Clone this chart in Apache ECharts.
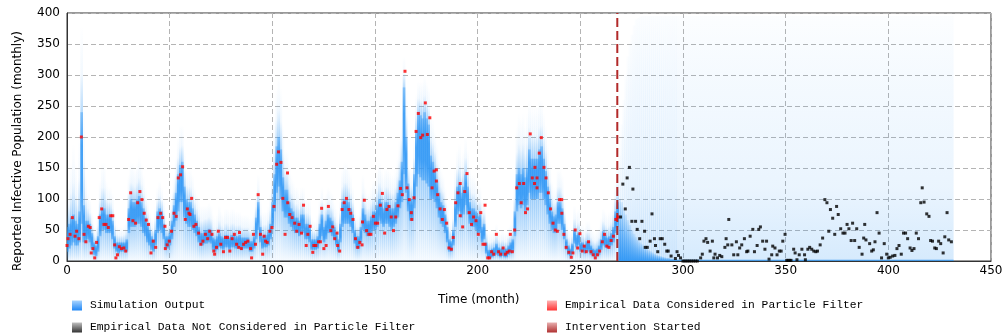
<!DOCTYPE html>
<html><head><meta charset="utf-8">
<script src="https://cdn.jsdelivr.net/npm/echarts@6/dist/echarts.min.js"></script>
<style>html,body{margin:0;padding:0;background:#fff}#c{width:1006px;height:336px}</style>
</head><body><div id="c"></div>
<script>
// ---- axis ticks ----
const xTicks = {min: 0, max: 450, interval: 50};
const yTicks = {min: 0, max: 400, interval: 50};

// ---- simulation output (particle cloud), historical months 0..268 ----
const histLow = [
15,20,25,30,25,25,30,60,30,30, 35,30,20,10,8,15,40,50,50,45, 45,45,35,20,15,12,15,15,15,15,
45,55,55,55,60,60,55,45,40,30, 25,18,15,25,45,50,45,35,20,20, 25,35,55,65,80,95,95,70,60,55,
55,50,45,40,30,25,25,28,28,30, 28,18,15,18,22,20,18,22,22,18, 22,22,20,20,22,18,20,20,20,15,
15,20,35,50,30,20,22,22,25,35, 55,80,110,120,100,80,70,70,60,55, 50,45,45,40,45,45,35,35,30,18,
18,18,20,30,40,30,35,45,45,40, 35,25,15,30,55,60,60,60,55,45, 28,20,20,30,50,45,40,40,45,50,
50,55,65,60,55,60,60,55,50,55, 60,70,85,95,140,110,80,65,65,85, 120,140,135,130,130,125,120,100,100,95,
85,70,60,55,45,30,15,15,25,55, 75,80,70,75,90,75,60,55,55,50, 45,45,30,35,12,5,5,6,8,10,
8,6,8,6,6,10,12,15,40,80, 90,85,90,80,90,110,100,100,100,100, 110,110,100,90,75,60,50,45,45,60,
60,50,35,18,10,8,12,28,22,25, 15,15,12,15,15,10,8,6,8,10, 18,25,22,20,22,25,30,45,55];
const histHigh = [
55,60,70,75,65,60,80,240,90,65, 65,60,45,30,25,40,75,85,85,75, 75,75,65,40,30,30,30,30,30,35,
85,100,95,95,100,105,95,85,70,60, 50,40,35,50,80,85,80,60,40,40, 45,65,90,110,140,155,160,120,100,95,
95,85,75,65,55,45,45,50,50,52, 50,38,35,40,45,40,38,42,42,38, 42,42,40,40,42,38,38,38,38,32,
32,40,70,95,55,40,42,42,48,60, 95,140,185,200,180,135,115,115,95,85, 80,70,70,65,75,75,60,60,55,35,
35,35,40,60,75,55,65,75,70,65, 55,45,35,60,95,100,100,95,85,75, 50,40,40,55,85,75,65,65,72,80,
80,90,100,95,85,95,95,90,85,85, 95,110,130,160,280,200,125,100,100,140, 210,240,235,230,240,230,220,170,160,150,
130,110,95,90,75,55,35,32,50,95, 120,125,110,120,140,120,95,85,85,80, 72,75,55,60,30,18,18,20,22,28,
22,20,22,20,20,25,30,35,80,140, 150,140,150,135,150,180,165,165,165,165, 180,185,165,145,120,100,80,72,75,95,
95,85,60,35,25,20,28,50,42,45, 30,30,26,32,32,25,20,18,20,25, 35,48,42,38,40,45,55,80,95];
const histTop = [
100,130,160,190,160,130,200,380,250,140, 110,100,80,60,55,80,130,160,160,130, 120,120,110,80,60,55,55,55,60,70,
140,160,160,150,160,170,160,140,120,100, 80,70,65,90,120,130,120,100,75,70, 80,110,140,170,200,220,220,180,150,150,
150,140,120,110,100,90,90,90,90,95, 90,75,70,75,90,80,75,85,85,80, 85,85,80,80,80,75,75,75,75,70,
70,80,110,140,100,80,80,80,90,110, 160,230,280,300,280,220,180,180,160,140, 130,120,120,110,120,120,100,100,100,70,
65,65,75,100,120,100,110,120,115,110, 95,85,70,100,150,160,160,150,140,120, 90,75,75,95,140,120,110,110,120,130,
130,145,160,150,140,150,150,145,140,140, 150,170,200,240,330,280,180,150,150,200, 270,290,290,290,300,290,280,240,230,210,
190,170,150,140,120,95,70,65,90,150, 180,190,170,180,200,180,150,140,140,130, 120,120,100,100,65,45,45,45,50,60,
50,45,50,45,45,55,60,70,130,220, 240,230,240,220,240,260,250,250,250,250, 260,260,240,220,190,160,130,120,120,150,
150,140,100,70,55,45,55,90,80,85, 60,60,55,65,65,55,50,45,50,55, 70,85,80,75,80,85,100,130,160];

// ---- simulation output, forecast months (segments start at these months, last runs to fcEnd) ----
const fcMonth = [269,270,271,272,273,274,275,276,277,278,279,280,281,282,283,284,285,286,287,288,289,290,291,292,293,294,295,296,297];
const fcHigh  = [100,95,85,75,66,58,50,44,39,34,30,27,24,21,18,16,14,12,10,9,8,7,6,5,5,4,4,3,3];
const fcTop   = [170,220,260,300,330,350,365,380,390,392,394,395,395,395,395,395,395,395,395,395,395,395,395,395,395,395,395,395,395];
const fcEnd = 431;

// ---- empirical data considered in particle filter [month, value] ----
const redData = [[0,25],[0.5,36],[1.5,43],[2.6,70],[3.9,40],[4.7,48],[5.8,36],[7,200],[8.3,43],[9.2,31],[10.4,56],[11.3,54],[11.8,13],[12.6,20],[13.5,5],[14.4,30],[15.7,70],[16.9,84],[18,59],[19,59],[20.1,54],[21.3,73],[22.3,73],[23.2,26],[23.8,5],[24.6,10],[25.5,23],[26.5,20],[27.7,21],[28.6,16],[30,67],[31,110],[32.1,65],[33.4,61],[34.4,94],[35.5,112],[36.5,99],[37.6,77],[38.6,66],[39.7,59],[40.9,13],[42,32],[43.2,22],[44.3,70],[45.6,77],[46.6,70],[47.7,56],[47.9,20],[48.8,26],[49.8,32],[50.9,48],[52.1,77],[53.2,72],[54.2,134],[55.3,139],[56.3,152],[57.6,67],[58.6,84],[59.4,77],[59.9,75],[60.7,101],[61.8,56],[62.8,59],[64.1,45],[65.2,27],[66.2,32],[67.4,43],[68.5,36],[69.5,48],[70.6,43],[71.5,16],[71.9,11],[72.8,22],[73.7,48],[74.9,27],[76.2,15],[77.2,38],[78.2,38],[79.3,16],[80.4,36],[81.5,43],[82.6,27],[83.6,22],[84,46],[84.9,20],[86,27],[87,30],[88.1,32],[89.4,20],[89.9,5],[90.8,43],[91.8,27],[93.1,107],[94.2,43],[95.3,11],[96,40],[96.7,32],[97.5,30],[98.8,48],[99.8,54],[100.8,88],[102.1,156],[103,176],[104.2,159],[105.1,101],[106.2,43],[107.4,142],[107.5,94],[108.5,75],[109.6,70],[110.9,61],[111.9,48],[113,59],[114.2,45],[115.2,90],[116.5,25],[117.3,43],[118.4,56],[119.7,14],[120.2,25],[121.2,25],[122.5,31],[123.4,31],[124,85],[125.1,20],[126.2,25],[127.3,88],[128.5,49],[129.4,55],[130.4,36],[131.5,45],[131.8,25],[132.8,16],[134,83],[135,94],[136.1,101],[137.3,83],[138.2,77],[139.3,67],[140.5,36],[141.6,22],[142.6,30],[143.7,26],[143.9,63],[144.8,98],[145.9,49],[147,43],[148,43],[149.2,72],[150.2,61],[151.3,61],[152.6,90],[153.6,109],[154.7,45],[155.8,83],[156.8,88],[157.9,71],[159,49],[160.1,71],[161.2,89],[162.4,117],[163.3,107],[164.6,306],[165.6,118],[166.7,99],[167.7,78],[167.9,67],[169,102],[170,209],[171.1,238],[172.3,199],[173.2,203],[174.5,255],[175.5,204],[176.7,231],[177.8,118],[178.8,145],[179.9,147],[179.9,129],[180.5,107],[181.7,84],[182.8,67],[183.8,83],[184.9,61],[186,21],[187.2,19],[188.1,38],[189.3,94],[190.4,110],[191.5,125],[191.5,73],[192.7,55],[193.7,112],[194.8,141],[195.9,78],[197,59],[198,71],[199.2,65],[200.3,43],[201.5,78],[202.6,27],[203.6,27],[203.6,90],[204.9,5],[205.8,5],[206.8,15],[207.8,11],[209.1,43],[210.2,15],[211.2,11],[212.4,21],[213.5,11],[214.4,14],[215.4,16],[215.9,43],[216.9,15],[218,50],[219,118],[220.3,125],[221.2,94],[222.4,125],[223.3,78],[224.3,84],[225.6,205],[226.6,134],[227.7,125],[227.9,151],[228.9,134],[228.9,118],[230,174],[231,199],[232.3,151],[233.3,134],[234.4,110],[235.5,84],[236.7,61],[237.8,50],[238.8,48],[239.9,99],[240.9,99],[241,77],[242,43],[243.1,22],[244.4,14],[245.6,6],[246.4,13],[247.5,50],[248.7,21],[249.8,44],[250.9,16],[251.9,24],[252.9,15],[254,31],[255.2,15],[256.3,10],[257.3,5],[258.4,10],[259.4,16],[260.7,31],[261.8,43],[262.9,24],[263.9,22],[265,33],[266.1,40],[267.3,67],[268.3,71]];

// ---- empirical data not considered in particle filter [month, value] ----
const blackData = [[269.6,71],[270.7,124],[271.9,84],[272.8,134],[273.9,151],[275.1,64],[275.6,116],[276.9,64],[277.7,51],[278.9,36],[280,64],[281.3,48],[281.6,22],[282.6,22],[284,32],[284.9,76],[286.1,36],[286.6,25],[287.7,15],[288.9,36],[289.9,36],[291.1,27],[292.1,16],[292.8,16],[294.2,8],[296.3,4],[297.1,15],[297.8,9],[298.8,5],[300,0],[301,0],[302,0],[303,0],[304,0],[305,0],[306,0],[307,0],[308.6,5],[309.4,11],[310.2,32],[311.2,36],[312,30],[313.2,16],[314.3,32],[315,5],[315.6,11],[316.8,5],[317.9,9],[318.9,7],[320.4,22],[321,36],[321.8,26],[322.3,67],[323.8,26],[324.7,10],[326,31],[326.7,10],[327.6,21],[328.6,26],[329.9,36],[331,15],[331.6,16],[332.7,40],[334,51],[334.8,15],[336.1,25],[336.9,51],[337.7,55],[338.8,32],[339.9,19],[340.7,32],[341.9,3],[343.2,10],[343.7,24],[344.8,21],[345.8,10],[346.9,16],[347.8,16],[348.6,32],[349.7,43],[350.5,1],[351.2,1],[352,1],[352.6,1],[353.9,19],[354.6,13],[355.5,2],[356.6,10],[357.9,19],[359.2,10],[359.6,2],[360.8,19],[361.7,22],[362.7,19],[363.7,16],[364.7,15],[365.5,16],[366.8,26],[368,37],[369.1,99],[370.1,94],[371,48],[371.8,83],[372.9,69],[373.9,43],[374.8,88],[375.6,75],[376.8,52],[377.9,45],[378.9,45],[379.9,59],[380.8,52],[381.9,33],[382.6,61],[383.6,33],[384.6,52],[385.8,22],[387.2,11],[388,37],[388.5,59],[389.1,34],[390.9,28],[391.9,16],[392.7,18],[393.5,31],[394.5,78],[395.5,45],[396.7,5],[398,28],[399.2,11],[400,5],[400.9,6],[402.1,8],[403.2,9],[404.2,20],[405.2,25],[406.3,11],[407.4,45],[408.4,45],[409.4,36],[410.6,21],[411.5,17],[412.5,20],[413.6,45],[414.7,36],[415.8,94],[416.5,118],[417.4,95],[418.7,76],[419.8,72],[420.6,33],[421.5,32],[422.6,21],[423.4,20],[424.5,32],[425.5,28],[426.7,13],[427.5,39],[428.6,78],[429.4,34],[430.7,31]];

// ---- intervention ----
const interventionMonth = 268;

// ---- names ----
const names = {
  sim: 'Simulation Output',
  red: 'Empirical Data Considered in Particle Filter',
  black: 'Empirical Data Not Considered in Particle Filter',
  inter: 'Intervention Started'
};

// build custom-series data: [x0, x1, low, high, top, kind]
const simData = [];
for (let i = 0; i < histLow.length; i++) simData.push([i - 0.5, i + 0.5, histLow[i], histHigh[i], histTop[i], 0]);
for (let j = 0; j < fcMonth.length; j++) {
  const end = j + 1 < fcMonth.length ? fcMonth[j + 1] - 0.5 : fcEnd + 0.5;
  simData.push([fcMonth[j] - 0.5, end, 0, fcHigh[j], fcTop[j], 1]);
}

const B = 'rgba(50,152,245,';
function grad(stops) {
  return new echarts.graphic.LinearGradient(0, 0, 0, 1, stops.map(s => ({offset: s[0], color: B + s[1] + ')'})));
}

function renderSim(params, api) {
  const x0 = api.value(0), x1 = api.value(1), lo = api.value(2), hi = api.value(3), top = api.value(4), kind = api.value(5);
  const pTop = api.coord([x0, top]);
  const pBase = api.coord([x1, 0]);
  const pHi = api.coord([x0, hi]);
  const pLo = api.coord([x0, lo]);
  const x = pTop[0], w = pBase[0] - pTop[0] + 0.6;
  const H = pBase[1] - pTop[1];
  const children = [];
  if (kind === 0) {
    const oHi = Math.max(0, Math.min(1, (pHi[1] - pTop[1]) / H));
    const oLo = Math.max(oHi, Math.min(1, (pLo[1] - pTop[1]) / H));
    children.push({type: 'rect', shape: {x: x, y: pTop[1], width: w, height: H},
      style: {fill: grad([[0, 0], [oHi * 0.55, 0.06], [oHi, 0.35], [oLo, 0.35], [1, 0.03]])}});
    children.push({type: 'rect', shape: {x: x, y: pHi[1], width: w, height: pLo[1] - pHi[1]},
      style: {fill: grad([[0, 0.4], [0.3, 0.85], [0.7, 0.85], [1, 0.45]])}});
  } else {
    children.push({type: 'rect', shape: {x: x, y: pTop[1], width: w, height: H},
      style: {fill: grad([[0, 0.015], [0.25, 0.05], [0.7, 0.1], [1, 0.2]])}});
    children.push({type: 'rect', shape: {x: x, y: pHi[1], width: w, height: pBase[1] - pHi[1]},
      style: {fill: grad([[0, 0.12], [0.5, 0.55], [1, 0.95]])}});
  }
  return {type: 'group', children: children};
}

const chart = echarts.init(document.getElementById('c'), null, {renderer: 'canvas'});
const legendCommon = {
  orient: 'horizontal', itemWidth: 10, itemHeight: 10, padding: 0, selectedMode: false,
  textStyle: {fontFamily: 'Liberation Mono', fontSize: 11.3, color: '#000', padding: [0, 0, 0, 3]}
};
const lg = (c1, c2) => new echarts.graphic.LinearGradient(0, 0, 0, 1, [{offset: 0, color: c1}, {offset: 1, color: c2}]);

chart.setOption({
  animation: false,
  backgroundColor: '#fff',
  grid: {left: 67, right: 15, top: 13, bottom: 75, show: true, borderColor: '#333', borderWidth: 1, backgroundColor: 'transparent'},
  xAxis: {
    type: 'value', min: xTicks.min, max: xTicks.max, interval: xTicks.interval,
    axisLine: {show: true, onZero: false, lineStyle: {color: '#333'}},
    axisTick: {show: false},
    axisLabel: {color: '#000', fontFamily: 'DejaVu Sans', fontSize: 12, margin: 4},
    splitLine: {show: true, lineStyle: {color: '#b4b4b4', type: [5, 3]}}
  },
  yAxis: {
    type: 'value', min: yTicks.min, max: yTicks.max, interval: yTicks.interval,
    axisLine: {show: true, onZero: false, lineStyle: {color: '#333'}},
    axisTick: {show: false},
    axisLabel: {color: '#000', fontFamily: 'DejaVu Sans', fontSize: 12, margin: 7},
    splitLine: {show: true, lineStyle: {color: '#b4b4b4', type: [5, 3]}}
  },
  legend: [
    Object.assign({left: 72, top: 300, data: [{name: names.sim, icon: 'rect', itemStyle: {color: lg('#a8d4ff', '#1f86f5')}}]}, legendCommon),
    Object.assign({left: 547, top: 300, data: [{name: names.red, icon: 'rect', itemStyle: {color: lg('#ffa0a0', '#ff0000')}}]}, legendCommon),
    Object.assign({left: 72, top: 322, data: [{name: names.black, icon: 'rect', itemStyle: {color: lg('#b0b0b0', '#000000')}}]}, legendCommon),
    Object.assign({left: 547, top: 322, data: [{name: names.inter, icon: 'rect', itemStyle: {color: lg('#e8b0b0', '#b03030')}}]}, legendCommon)
  ],
  graphic: [
    {type: 'text', left: 438, top: 294, style: {text: 'Time (month)', font: '12px "DejaVu Sans"', fill: '#000'}},
    {type: 'text', x: 18, y: 151, rotation: Math.PI / 2, style: {text: 'Reported Infective Population (monthly)', font: '12px "DejaVu Sans"', fill: '#000', align: 'center', verticalAlign: 'middle'}}
  ],
  series: [
    {name: names.sim, type: 'custom', renderItem: renderSim, data: simData, clip: true,
     encode: {x: [0, 1], y: [2, 3, 4]}, itemStyle: {color: '#2d96f5'}, silent: true, z: 1},
    {name: names.inter, type: 'line', data: [[interventionMonth, yTicks.min], [interventionMonth, yTicks.max]],
     symbol: 'none', lineStyle: {color: '#b22a2a', width: 2, type: [9, 4]}, itemStyle: {color: '#b22a2a'}, z: 3},
    {name: names.red, type: 'scatter', data: redData, symbol: 'rect', symbolSize: 3,
     itemStyle: {color: '#ff0000'}, z: 4},
    {name: names.black, type: 'scatter', data: blackData, symbol: 'rect', symbolSize: 3,
     itemStyle: {color: '#000000'}, z: 4}
  ]
});
</script>
</body></html>
